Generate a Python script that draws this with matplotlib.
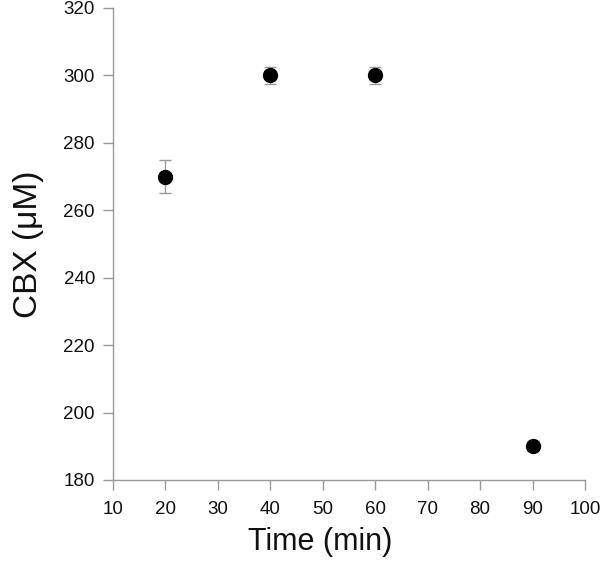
import matplotlib
matplotlib.use("Agg")
import matplotlib.pyplot as plt

time_min = [20, 40, 60, 90]
cbx_uM = [270, 300, 300, 190]
cbx_err = [5, 2.5, 2.5, 1.5]
x_ticks = [10, 20, 30, 40, 50, 60, 70, 80, 90, 100]
y_ticks = [180, 200, 220, 240, 260, 280, 300, 320]

plt.rcParams['font.family'] = ['Liberation Sans', 'DejaVu Sans']
fig = plt.figure(figsize=(6, 5.7), dpi=100)
left_px, right_px, top_px, bottom_px = 113, 585, 8, 480
ax = fig.add_axes([left_px / 600, (570 - bottom_px) / 570,
                   (right_px - left_px) / 600, (bottom_px - top_px) / 570])
ax.errorbar(time_min, cbx_uM, yerr=cbx_err, fmt='o', color='black',
            markersize=10, ecolor='#999999', elinewidth=1, capsize=4,
            capthick=1, zorder=3, clip_on=False)
ax.set_xlim(10, 100)
ax.set_ylim(180, 320)
ax.spines['top'].set_visible(False)
ax.spines['right'].set_visible(False)
for s in ('left', 'bottom'):
    ax.spines[s].set_color('#999999')
    ax.spines[s].set_linewidth(1)
ax.set_xticks(x_ticks)
ax.set_yticks(y_ticks)
ax.tick_params(direction='out', length=7, width=1, color='#999999',
               labelsize=13.5, labelcolor='#111111', pad=6)
ax.tick_params(axis='x', pad=8)
ax.set_xlabel('Time (min)', fontsize=22, color='#111111', labelpad=12)
ax.xaxis.set_label_coords(0.44, -0.1, transform=ax.transAxes)
ax.xaxis.label.set_va('top')
ax.set_ylabel('CBX (μM)', fontsize=24, color='#111111', labelpad=14)
fig.savefig('out.png', dpi=100)
